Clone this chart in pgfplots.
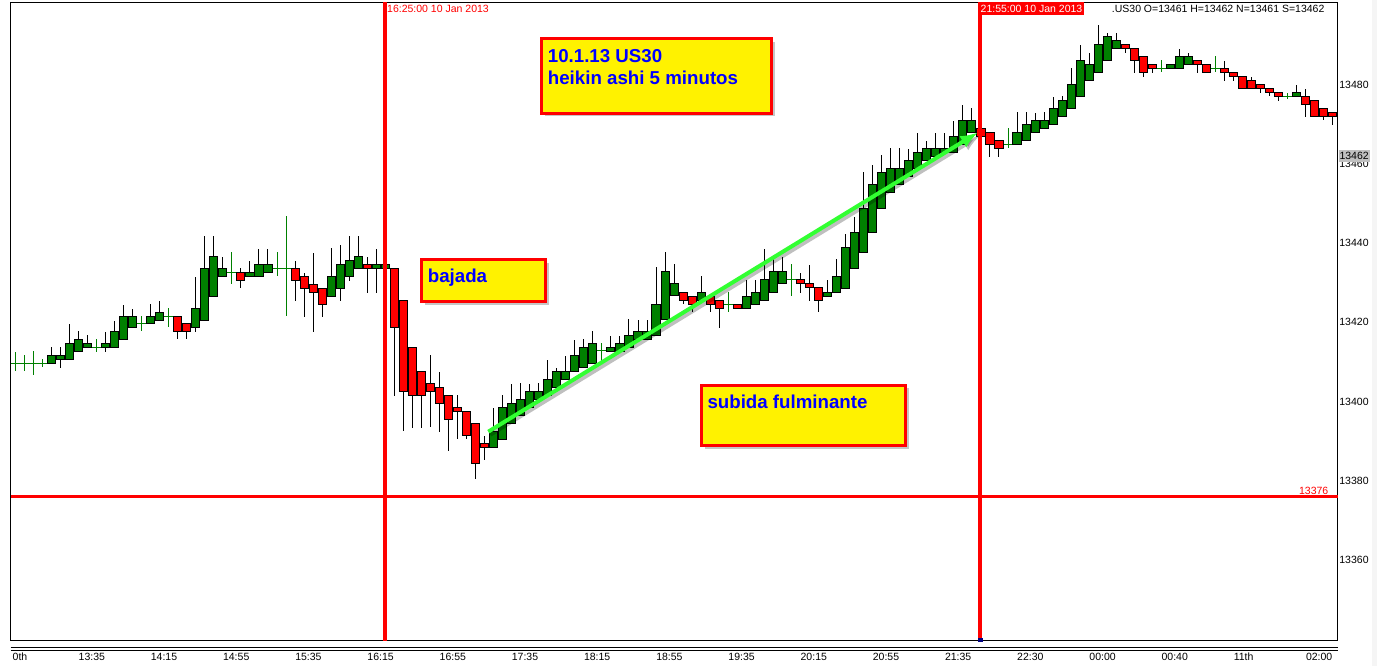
\documentclass[border=0pt]{standalone}
\usepackage{pgfplots}
\pgfplotsset{compat=1.18}
\usepackage{pgfplotstable}
\usepackage{fontspec}
\setmainfont{Liberation Sans}
\usetikzlibrary{shadows,arrows.meta}
\definecolor{cgreen}{RGB}{0,128,0}
\definecolor{cred}{RGB}{255,0,0}
\definecolor{arrowgreen}{RGB}{50,255,50}
\definecolor{boxnavy}{RGB}{0,0,128}
\definecolor{pricegray}{RGB}{192,192,192}

% Heikin Ashi candles (non-doji): index, open, high, low, close
\pgfplotstableread{
i O H L C
4 13409.7 13413.8 13409.7 13411.7
5 13410.7 13413.8 13408.6 13411.7
6 13410.7 13419.7 13410.7 13414.7
7 13412.7 13417.8 13412.7 13415.7
8 13413.7 13416.8 13413.7 13414.7
10 13413.7 13417.8 13412.6 13414.7
11 13413.7 13420.5 13413.7 13417.7
12 13415.7 13424.5 13415.7 13421.5
13 13418.7 13423.5 13418.7 13421.5
15 13419.7 13424.5 13419.7 13421.5
16 13420.5 13425.5 13420.5 13422.5
18 13421.5 13421.5 13415.7 13417.7
19 13419.7 13419.7 13415.7 13417.7
20 13418.7 13431.6 13417.7 13423.5
21 13420.5 13441.8 13420.5 13433.6
22 13426.6 13441.8 13426.6 13436.6
23 13431.6 13436.6 13431.6 13433.6
25 13432.6 13433.6 13428.6 13430.6
26 13431.6 13435.6 13431.6 13432.6
27 13431.6 13438.7 13431.6 13434.6
28 13432.6 13438.7 13432.6 13434.6
31 13433.6 13435.6 13425.5 13430.6
32 13431.6 13432.6 13421.5 13428.6
33 13429.6 13437.7 13417.7 13427.6
34 13428.6 13428.6 13421.5 13424.5
35 13426.6 13438.7 13426.6 13431.6
36 13428.6 13439.7 13425.5 13434.6
37 13431.6 13441.8 13430.6 13435.6
38 13433.6 13441.8 13433.6 13436.6
39 13434.6 13436.6 13427.6 13433.6
40 13433.6 13438.7 13427.6 13434.6
41 13433.6 13437.7 13433.6 13434.6
42 13433.6 13433.6 13401.5 13418.7
43 13425.5 13425.5 13392.5 13402.6
44 13413.7 13413.7 13393.5 13401.6
45 13407.6 13407.6 13393.5 13401.6
46 13404.6 13411.7 13393.5 13402.6
47 13403.6 13407.6 13392.5 13399.6
48 13401.6 13401.6 13387.5 13395.5
49 13398.6 13401.6 13390.5 13397.6
50 13397.6 13397.6 13390.5 13391.5
51 13394.5 13394.5 13380.4 13384.4
52 13389.5 13391.5 13385.4 13388.5
53 13388.5 13398.6 13388.5 13392.5
54 13390.5 13401.6 13390.5 13398.6
55 13394.5 13404.6 13394.5 13399.6
56 13396.6 13404.6 13396.6 13400.6
57 13398.6 13404.6 13398.6 13402.6
58 13400.6 13404.6 13400.6 13402.6
59 13401.6 13410.7 13401.6 13405.6
60 13403.6 13408.7 13403.6 13407.6
61 13405.6 13411.7 13405.6 13407.6
62 13407.6 13415.7 13407.6 13411.7
63 13408.7 13415.7 13408.7 13413.7
64 13409.7 13417.7 13409.7 13414.7
66 13412.7 13416.7 13412.7 13413.7
67 13412.7 13416.7 13412.7 13414.7
68 13413.7 13420.8 13413.7 13416.7
69 13415.7 13420.8 13415.7 13417.7
70 13415.7 13420.8 13415.7 13417.7
71 13416.7 13433.9 13416.7 13424.6
72 13420.6 13437.8 13420.6 13432.7
73 13426.7 13434.8 13426.7 13429.7
74 13427.6 13427.6 13424.6 13425.6
75 13426.6 13426.6 13422.6 13424.6
76 13425.6 13431.9 13425.6 13427.6
77 13426.6 13426.6 13422.6 13424.6
78 13425.6 13425.6 13418.7 13423.6
80 13424.6 13424.6 13423.6 13423.6
81 13423.6 13430.7 13423.6 13426.6
82 13424.6 13430.7 13424.6 13427.6
83 13425.6 13438.7 13425.6 13430.7
84 13427.6 13436.5 13427.6 13432.7
85 13429.7 13436.5 13429.7 13432.7
87 13430.7 13432.7 13427.6 13429.7
88 13429.7 13434.7 13425.6 13428.7
89 13428.7 13428.7 13422.6 13425.6
90 13426.6 13430.7 13426.6 13427.6
91 13427.6 13436.0 13427.6 13431.5
92 13428.6 13442.4 13428.6 13438.8
93 13433.6 13446.6 13433.6 13442.7
94 13437.7 13458.0 13437.7 13448.8
95 13442.7 13459.8 13442.7 13454.8
96 13448.8 13462.4 13448.8 13457.8
97 13452.8 13463.9 13452.8 13458.8
98 13454.8 13463.9 13454.8 13458.8
99 13456.8 13463.9 13456.8 13460.8
100 13458.8 13467.9 13458.8 13462.9
101 13460.8 13465.9 13460.8 13463.9
102 13461.9 13467.9 13461.9 13463.9
103 13462.9 13467.9 13462.9 13463.9
104 13462.9 13470.9 13462.9 13466.9
105 13464.9 13475.0 13464.9 13470.9
106 13467.9 13474.0 13467.9 13470.9
107 13468.9 13468.9 13466.9 13466.9
108 13467.9 13467.9 13461.8 13464.9
109 13465.9 13465.9 13461.8 13463.9
111 13464.9 13473.0 13464.9 13467.9
112 13465.9 13473.0 13465.9 13469.9
113 13467.9 13473.0 13467.9 13470.9
114 13468.9 13473.0 13468.9 13470.9
115 13469.9 13477.0 13469.9 13474.0
116 13471.9 13477.0 13471.9 13476.0
117 13474.0 13484.1 13474.0 13480.0
118 13477.0 13490.1 13477.0 13486.1
119 13481.0 13488.0 13481.0 13485.1
120 13483.1 13495.2 13483.1 13490.1
121 13486.1 13493.1 13486.1 13492.1
122 13489.1 13493.1 13489.1 13491.1
123 13490.1 13490.1 13488.0 13489.1
124 13489.1 13489.1 13483.1 13486.1
125 13487.1 13487.1 13482.0 13483.1
126 13485.1 13485.1 13483.1 13484.1
128 13484.1 13485.1 13484.1 13485.1
129 13484.1 13489.1 13484.1 13487.1
130 13485.1 13488.1 13485.1 13487.1
131 13486.1 13486.1 13483.1 13485.1
132 13485.1 13485.1 13483.1 13483.1
134 13484.1 13486.1 13481.0 13483.1
135 13483.1 13483.1 13481.0 13482.0
136 13482.0 13482.0 13479.0 13479.0
137 13481.0 13482.0 13479.0 13479.0
138 13480.0 13480.0 13478.0 13479.0
139 13479.0 13479.0 13477.0 13478.0
140 13478.0 13478.0 13476.0 13477.0
142 13477.0 13480.0 13477.0 13478.0
143 13477.0 13479.0 13471.9 13475.0
144 13476.0 13476.0 13471.9 13471.9
145 13474.0 13474.0 13471.0 13471.9
146 13473.0 13473.0 13469.9 13471.9
}\candles

% doji bars (open = close): index, price, high, low
\pgfplotstableread{
i P H L
0 13409.7 13412.6 13407.6
1 13409.7 13411.8 13407.6
2 13409.7 13412.8 13406.6
3 13409.7 13410.7 13408.6
9 13413.7 13415.7 13412.6
14 13419.7 13421.5 13417.7
17 13421.5 13423.5 13418.7
24 13432.6 13437.7 13429.6
29 13433.6 13437.7 13431.6
30 13433.6 13446.8 13421.5
65 13413.0 13414.7 13409.7
79 13424.6 13427.6 13422.6
86 13430.7 13434.7 13426.6
110 13464.9 13468.9 13463.9
127 13484.1 13486.1 13483.1
133 13484.1 13487.1 13483.1
141 13477.0 13477.8 13476.2
}\dojis

\tikzset{smallfont/.style={font=\fontsize{10.5}{12}\selectfont}}
\pgfplotsset{
  myax/.style={at={(10.7pt,25pt)}, anchor=south west, scale only axis,
    width=1327pt, height=638.7pt, xmin=-0.51, xmax=146.53},
}

\begin{document}
\begin{tikzpicture}[x=1pt,y=1pt]
\path[use as bounding box] (0,0) rectangle (1377,666);
\fill[gray!8] (1372,0) rectangle (1377,666);

% frame, ticks, wicks, dojis
\begin{axis}[myax, ymin=13339.62, ymax=13500.71,
  axis line style={line width=1pt, black},
  major tick length=0pt, tick style={draw=none},
  xtick={-0.31,7,15,23,31,39,47,55,63,71,79,87,95,103,111,119,127,135,143},
  xticklabels={0th,13:35,14:15,14:55,15:35,16:15,16:55,17:35,18:15,18:55,19:35,20:15,20:55,21:35,22:30,00:00,00:40,11th,02:00},
  ytick={13360,13380,13400,13420,13440,13460,13480},
  yticklabels={13360,13380,13400,13420,13440,13460,13480},
  yticklabel pos=right,
  xticklabel style={anchor=west, inner sep=0pt, yshift=-16pt, smallfont},
  yticklabel style={anchor=west, inner sep=0pt, xshift=1.5pt, smallfont},
]
\addplot[draw=none, mark=none,
  error bars/.cd, y dir=both, y explicit, error mark=none,
  error bar style={draw=black, line width=1pt}]
  table[x=i, y expr={(\thisrow{H}+\thisrow{L})/2}, y error expr={(\thisrow{H}-\thisrow{L})/2}] {\candles};
\addplot[draw=none, mark=none,
  error bars/.cd, x dir=both, x fixed=0.5, y dir=both, y explicit, error mark=none,
  error bar style={draw=cgreen, line width=1pt}]
  table[x=i, y=P, y error plus expr={\thisrow{H}-\thisrow{P}}, y error minus expr={\thisrow{P}-\thisrow{L}}] {\dojis};
\end{axis}

% candle bodies (heights above the lower plot limit 13339.62)
\begin{axis}[myax, hide axis, ymin=0, ymax=161.09, ybar stacked, bar width=0.9]
\addplot[draw=none, fill=none] table[x=i, y expr={min(\thisrow{O},\thisrow{C})-13339.62}] {\candles};
\addplot[draw=black, line width=1pt, fill=cgreen] table[x=i, y expr={max(\thisrow{C}-\thisrow{O},0)}] {\candles};
\addplot[draw=black, line width=1pt, fill=cred] table[x=i, y expr={max(\thisrow{O}-\thisrow{C},0)}] {\candles};
\end{axis}

% vertical and horizontal lines
\begin{axis}[myax, hide axis, ymin=13339.62, ymax=13500.71, clip=false]
\addplot[cred, line width=4pt] coordinates {(41,13339.62) (41,13500.71)};
\addplot[cred, line width=4pt] coordinates {(106.9,13339.62) (106.9,13500.71)};
\addplot[cred, line width=3pt] coordinates {(-0.51,13376) (146.53,13376)};
\end{axis}

% bottom double line
\draw[line width=1pt] (10.7,18.2) -- (1337.7,18.2);
\draw[line width=1pt] (10.7,15.5) -- (1337.7,15.5);

% markers on the selected line
\fill[boxnavy] (977.5,661) rectangle (982.5,664.3);
\fill[boxnavy] (977.5,24) rectangle (982.5,27.5);

% top texts
\node[anchor=base west, inner sep=0pt, smallfont, cred] at (387,653.5) {16:25:00 10 Jan 2013};
\fill[cred] (978.3,651) rectangle (1084,664.3);
\node[anchor=base west, inner sep=0pt, smallfont, white] at (980.5,653.5) {21:55:00 10 Jan 2013};
\node[anchor=base west, inner sep=0pt, smallfont, black] at (1111.7,653.5) {.US30 O=13461 H=13462 N=13461 S=13462};

% price labels on the right
\node[anchor=base east, inner sep=0pt, smallfont, cred] at (1328.5,171) {13376};
\fill[pricegray] (1338.5,504) rectangle (1370,515.5);
\node[anchor=west, inner sep=0pt, smallfont] at (1339.3,509.8) {13462};

% arrow
\draw[black, opacity=0.25, line width=4pt, -{Latex[length=18pt,width=13pt]}] (490.3,231.3) -- (980.3,530.7);
\draw[arrowgreen, line width=4pt, -{Latex[length=18pt,width=13pt]}] (488.3,234.3) -- (978.3,533.7);

% text boxes
\draw[cred, line width=3pt, fill=yellow, drop shadow={shadow xshift=3pt, shadow yshift=-3pt, opacity=0.45}] (541.5,552.5) rectangle (771.8,627.2);
\node[anchor=base west, inner sep=0pt, blue, font=\bfseries\fontsize{18.7}{21.6}\selectfont] at (547.7,603.3) {10.1.13 US30};
\node[anchor=base west, inner sep=0pt, blue, font=\bfseries\fontsize{18.7}{21.6}\selectfont] at (547.7,581.7) {heikin ashi 5 minutos};

\draw[cred, line width=3pt, fill=yellow, drop shadow={shadow xshift=3pt, shadow yshift=-3pt, opacity=0.45}] (421.5,364.2) rectangle (545.8,406.2);
\node[anchor=base west, inner sep=0pt, blue, font=\bfseries\fontsize{18.7}{21.6}\selectfont] at (427.7,383.3) {bajada};

\draw[cred, line width=3pt, fill=yellow, drop shadow={shadow xshift=3pt, shadow yshift=-3pt, opacity=0.45}] (701.5,220.2) rectangle (905.8,280.5);
\node[anchor=base west, inner sep=0pt, blue, font=\bfseries\fontsize{18.7}{21.6}\selectfont] at (707.3,257) {subida fulminante};
\end{tikzpicture}
\end{document}
